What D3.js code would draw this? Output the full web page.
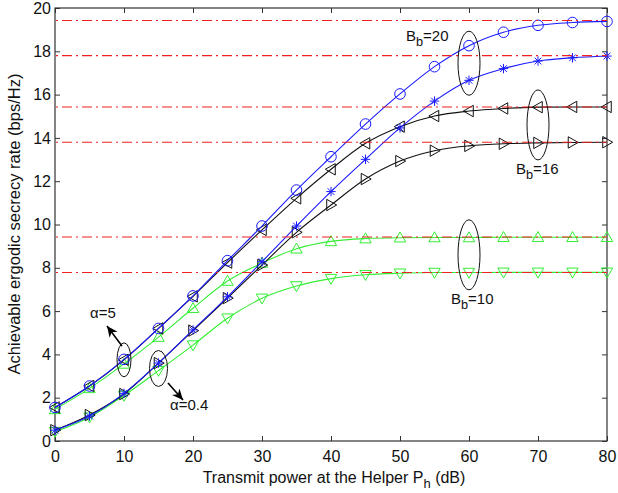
<!DOCTYPE html>
<html>
<head>
<meta charset="utf-8">
<script src="https://cdn.jsdelivr.net/npm/d3@7"></script>
<style>
  html, body { margin: 0; padding: 0; background: #fff; }
  svg text { font-family: "Liberation Sans", Arial, Helvetica, sans-serif; }
</style>
</head>
<body>
<svg id="chart" width="618" height="493"></svg>
<script>
// ---------------- data ----------------
const powerDb = [0, 5, 10, 15, 20, 25, 30, 35, 40, 45, 50, 55, 60, 65, 70, 75, 80];
const xTicks = [0, 10, 20, 30, 40, 50, 60, 70, 80];
const yTicks = [0, 2, 4, 6, 8, 10, 12, 14, 16, 18, 20];

const rateA5B20 = [1.55, 2.54, 3.77, 5.2, 6.7, 8.33, 9.93, 11.59, 13.13, 14.64, 16.03, 17.29, 18.26, 18.88, 19.2, 19.33, 19.38];
const rateA04B20 = [0.5, 1.15, 2.2, 3.6, 5.13, 6.66, 8.28, 9.93, 11.52, 13.01, 14.46, 15.7, 16.66, 17.2, 17.55, 17.7, 17.78];
const rateA5B16 = [1.55, 2.54, 3.75, 5.2, 6.68, 8.24, 9.75, 11.21, 12.55, 13.75, 14.52, 15.01, 15.24, 15.36, 15.42, 15.43, 15.43];
const rateA04B16 = [0.5, 1.2, 2.17, 3.6, 5.1, 6.6, 8.13, 9.64, 10.9, 12.1, 12.93, 13.41, 13.63, 13.73, 13.77, 13.79, 13.8];
const rateA5B10 = [1.46, 2.43, 3.56, 4.8, 6.13, 7.39, 8.22, 8.88, 9.22, 9.35, 9.39, 9.4, 9.4, 9.41, 9.41, 9.41, 9.41];
const rateA04B10 = [0.43, 1.1, 2.1, 3.25, 4.43, 5.67, 6.59, 7.16, 7.5, 7.68, 7.75, 7.78, 7.78, 7.79, 7.79, 7.79, 7.79];
const upperBounds = [19.42, 17.8, 15.43, 13.8, 9.42, 7.78];

const seriesList = [
  { values: rateA5B10, color: "#33ee33", marker: "up" },
  { values: rateA04B10, color: "#33ee33", marker: "down" },
  { values: rateA5B16, color: "#111111", marker: "left" },
  { values: rateA04B16, color: "#111111", marker: "right" },
  { values: rateA5B20, color: "#1a1aff", marker: "circle" },
  { values: rateA04B20, color: "#1a1aff", marker: "star" }
];

// ---------------- layout ----------------
const svg = d3.select("#chart");
const L = 55, R = 607, T = 8, B = 441;
const x = d3.scaleLinear().domain([0, 80]).range([L, R]);
const y = d3.scaleLinear().domain([0, 20]).range([B, T]);

// axes
const tickLen = 5;
const fs = 16;
const gx = svg.append("g").attr("transform", `translate(0,${B})`)
  .call(d3.axisBottom(x).tickValues(xTicks).tickSizeInner(-tickLen).tickSizeOuter(0).tickPadding(9));
const gxTop = svg.append("g").attr("transform", `translate(0,${T})`)
  .call(d3.axisTop(x).tickValues(xTicks).tickSizeInner(-tickLen).tickSizeOuter(0).tickFormat(""));
const gy = svg.append("g").attr("transform", `translate(${L},0)`)
  .call(d3.axisLeft(y).tickValues(yTicks).tickSizeInner(-tickLen).tickSizeOuter(0).tickPadding(4));
const gyR = svg.append("g").attr("transform", `translate(${R},0)`)
  .call(d3.axisRight(y).tickValues(yTicks).tickSizeInner(-tickLen).tickSizeOuter(0).tickFormat(""));
[gx, gxTop, gy, gyR].forEach(g => {
  g.select(".domain").remove();
  g.selectAll("line").attr("stroke", "#333").attr("stroke-width", 1);
  g.selectAll("text").attr("font-size", fs).attr("fill", "#111")
    .style("font-family", "'Liberation Sans', Arial, sans-serif");
});
gx.selectAll("text").attr("dy", "0.75em");
svg.append("rect").attr("x", L).attr("y", T).attr("width", R - L).attr("height", B - T)
  .attr("fill", "none").attr("stroke", "#333").attr("stroke-width", 1.2);

// curves
const line = d3.line().x((d, i) => x(powerDb[i])).y(d => y(d)).curve(d3.curveMonotoneX);
const markerSize = 5.7;
function drawMarker(g, type, cx, cy, color) {
  const s = markerSize;
  if (type === "circle") {
    g.append("circle").attr("cx", cx).attr("cy", cy).attr("r", 5.3)
      .attr("fill", "none").attr("stroke", color).attr("stroke-width", 1);
  } else if (type === "star") {
    const r = 4.7, d = r * 0.72;
    const segs = [[-r, 0, r, 0], [0, -r, 0, r], [-d, -d, d, d], [-d, d, d, -d]];
    segs.forEach(sg => g.append("line").attr("x1", cx + sg[0]).attr("y1", cy + sg[1])
      .attr("x2", cx + sg[2]).attr("y2", cy + sg[3]).attr("stroke", color).attr("stroke-width", 1));
  } else {
    let pts;
    if (type === "up") pts = [[0, -s], [s, s * 0.75], [-s, s * 0.75]];
    if (type === "down") pts = [[0, s], [s, -s * 0.75], [-s, -s * 0.75]];
    if (type === "left") pts = [[-s, 0], [s * 0.75, -s], [s * 0.75, s]];
    if (type === "right") pts = [[s, 0], [-s * 0.75, -s], [-s * 0.75, s]];
    g.append("polygon").attr("points", pts.map(p => [cx + p[0], cy + p[1]].join(",")).join(" "))
      .attr("fill", "none").attr("stroke", color).attr("stroke-width", 1);
  }
}
seriesList.forEach(s => {
  const g = svg.append("g");
  g.append("path").datum(s.values).attr("d", line)
    .attr("fill", "none").attr("stroke", s.color).attr("stroke-width", 1.1);
  s.values.forEach((v, i) => drawMarker(g, s.marker, x(powerDb[i]), y(v), s.color));
});

// red dash-dot bounds
svg.append("g").selectAll("line").data(upperBounds).join("line")
  .attr("x1", L + 1).attr("x2", R).attr("y1", d => y(d)).attr("y2", d => y(d))
  .attr("stroke", "#ee2222").attr("stroke-width", 1.1)
  .attr("stroke-dasharray", "10,4,2,4").attr("stroke-dashoffset", -6);

// annotations: ellipses
const ell = [
  { cx: x(60), cy: y(17.45), rx: 11, ry: 32 },
  { cx: x(70), cy: y(14.6), rx: 11, ry: 35 },
  { cx: x(60), cy: y(8.6), rx: 11, ry: 35 },
  { cx: x(10), cy: y(3.75), rx: 7, ry: 17 },
  { cx: x(15), cy: y(3.35), rx: 9, ry: 18 }
];
svg.append("g").selectAll("ellipse").data(ell).join("ellipse")
  .attr("cx", d => d.cx).attr("cy", d => d.cy).attr("rx", d => d.rx).attr("ry", d => d.ry)
  .attr("fill", "none").attr("stroke", "#111").attr("stroke-width", 1);

// arrows (line + filled head)
function arrow(x1, y1, x2, y2) {
  svg.append("line").attr("x1", x1).attr("y1", y1).attr("x2", x2).attr("y2", y2)
    .attr("stroke", "#000").attr("stroke-width", 1.6);
  const a = Math.atan2(y2 - y1, x2 - x1), len = 11, w = 5;
  const bx = x2 - len * Math.cos(a), by = y2 - len * Math.sin(a);
  const px = -Math.sin(a) * w, py = Math.cos(a) * w;
  svg.append("polygon")
    .attr("points", `${x2},${y2} ${bx + px},${by + py} ${bx + len * 0.3 * Math.cos(a)},${by + len * 0.3 * Math.sin(a)} ${bx - px},${by - py}`)
    .attr("fill", "#000");
}
arrow(122, 346, 107, 326);
arrow(168, 383, 183, 400);

// labels
function subLabel(xp, yp, main, sub, rest, size) {
  const t = svg.append("text").attr("x", xp).attr("y", yp).attr("font-size", size).attr("fill", "#111");
  t.append("tspan").text(main);
  t.append("tspan").attr("dy", 5).attr("font-size", size * 0.85).text(sub);
  t.append("tspan").attr("dy", -5).text(rest);
  return t;
}
subLabel(406, 41, "B", "b", "=20", 15);
subLabel(516, 174, "B", "b", "=16", 15);
subLabel(451, 304, "B", "b", "=10", 15);
svg.append("text").attr("x", 90).attr("y", 318).attr("font-size", 15).attr("fill", "#111").text("α=5");
svg.append("text").attr("x", 170).attr("y", 410).attr("font-size", 15).attr("fill", "#111").text("α=0.4");

// axis titles
const xt = svg.append("text").attr("x", 334).attr("y", 483).attr("text-anchor", "middle")
  .attr("font-size", 16).attr("fill", "#111");
xt.append("tspan").text("Transmit power at the Helper P");
xt.append("tspan").attr("dy", 5).attr("font-size", 13).text("h");
xt.append("tspan").attr("dy", -5).text(" (dB)");
svg.append("text").attr("transform", `translate(20,224) rotate(-90)`)
  .attr("text-anchor", "middle").attr("font-size", 16.5).attr("fill", "#111")
  .text("Achievable ergodic secrecy rate (bps/Hz)");
</script>
</body>
</html>
